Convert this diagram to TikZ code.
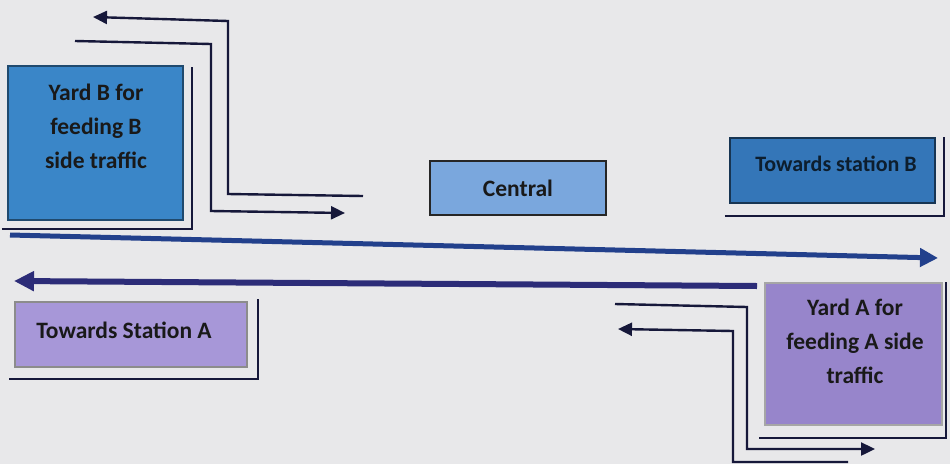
\documentclass[tikz,border=0pt]{standalone}
\usepackage{fontspec}
\setmainfont{Carlito}
\usetikzlibrary{arrows.meta,calc}
\definecolor{bg}{HTML}{E8E8EA}
\definecolor{yardB}{HTML}{3A86C8}
\definecolor{centralc}{HTML}{7AA7DD}
\definecolor{towB}{HTML}{3476B8}
\definecolor{towA}{HTML}{A797D8}
\definecolor{yardA}{HTML}{9785CB}
\definecolor{bigR}{HTML}{22408C}
\definecolor{bigL}{HTML}{2C2C78}
\definecolor{thin}{HTML}{16183A}
\tikzset{
  boxbase/.style={rectangle, inner sep=2pt, align=center, font=\fontsize{23.5}{34}\selectfont\bfseries, text=black!90},
  yardbbox/.style={boxbase, fill=yardB, draw=yardB!55!black, line width=2.5pt},
  centralbox/.style={boxbase, fill=centralc, draw=black!85, line width=2pt},
  towbbox/.style={boxbase, fill=towB, draw=towB!45!black, line width=2.5pt},
  towabox/.style={boxbase, fill=towA, draw=black!45, line width=1.2pt},
  yardabox/.style={boxbase, fill=yardA, draw=black!35, line width=1.2pt},
  boxtext/.style={align=center, inner sep=0pt, font=\fontsize{23.5}{34}\selectfont\bfseries, text=black!90},
  towbtext/.style={boxtext, font=\fontsize{22}{26}\selectfont\bfseries, text=black!75!towB},
  shade/.style={draw=thin, line width=2pt},
  thinarrow/.style={draw=thin, line width=2.4pt, -{Triangle[length=14pt,width=13pt]}},
  bigright/.style={draw=bigR, line width=5pt, -{Triangle[length=18pt,width=18pt]}},
  bigleft/.style={draw=bigL, line width=6pt, -{Triangle[length=20pt,width=19pt]}},
}
\begin{document}
\begin{tikzpicture}[x=1pt,y=-1pt]
\fill[bg] (0,0) rectangle (950,464);
\useasboundingbox (0,0) rectangle (950,464);

% boxes
\node[yardbbox, minimum width=175pt, minimum height=154pt] (yb) at (95.5,143) {};
\node[boxtext] (ybt) at (96,126) {Yard B for\\feeding B\\side traffic};
\node[centralbox, minimum width=176pt, minimum height=54pt] (cen) at (518,188) {Central};
\node[towbbox, minimum width=205pt, minimum height=65pt] (tb) at (832.5,170.5) {};
\node[towbtext] (tbt) at (836,164) {Towards station B};
\node[towabox, minimum width=232pt, minimum height=65pt] (ta) at (131,334.5) {};
\node[boxtext] (tat) at (124,330) {Towards Station A};
\node[yardabox, minimum width=177pt, minimum height=142pt] (ya) at (853.5,354) {};
\node[boxtext] (yat) at (855,341) {Yard A for\\feeding A side\\traffic};

% shadow lines
\draw[shade] ($(yb.south west)+(-5,8)$) -- ($(yb.south east)+(8,8)$) -- ($(yb.north east)+(8,2)$);
\draw[shade] ($(tb.south west)+(-4,12)$) -- ($(tb.south east)+(8,12)$) -- ($(tb.north east)+(8,0)$);
\draw[shade] ($(ta.south west)+(-5,11)$) -- ($(ta.south east)+(10,11)$) -- ($(ta.north east)+(10,-2)$);
\draw[shade] ($(ya.south west)+(-5,12)$) -- ($(ya.south east)+(3,12)$) -- ($(ya.north east)+(3,0)$);

% big main-line arrows
\coordinate (r0) at (10,235);
\coordinate (r1) at (938,258);
\draw[bigright] (r0) -- (r1);
\coordinate (l0) at (757,286);
\coordinate (l1) at (14,281);
\draw[bigleft] (l0) -- (l1);

% thin arrows top-left
\coordinate (a1s) at (363,196);
\coordinate (a1b) at (228,194);
\coordinate (a1c) at (228,21);
\coordinate (a1e) at (93,17);
\draw[thinarrow] (a1s) -- (a1b) -- (a1c) -- (a1e);
\coordinate (a2s) at (75,41);
\coordinate (a2b) at (211,44);
\coordinate (a2c) at (211,211);
\coordinate (a2e) at (345,213);
\draw[thinarrow] (a2s) -- (a2b) -- (a2c) -- (a2e);

% thin arrows bottom-right
\coordinate (b1s) at (615,304);
\coordinate (b1b) at (747,307);
\coordinate (b1c) at (747,449);
\coordinate (b1e) at (875,449);
\draw[thinarrow] (b1s) -- (b1b) -- (b1c) -- (b1e);
\coordinate (b2s) at (848,462);
\coordinate (b2b) at (733,462);
\coordinate (b2c) at (733,331);
\coordinate (b2e) at (618,329);
\draw[thinarrow] (b2s) -- (b2b) -- (b2c) -- (b2e);
\end{tikzpicture}
\end{document}
